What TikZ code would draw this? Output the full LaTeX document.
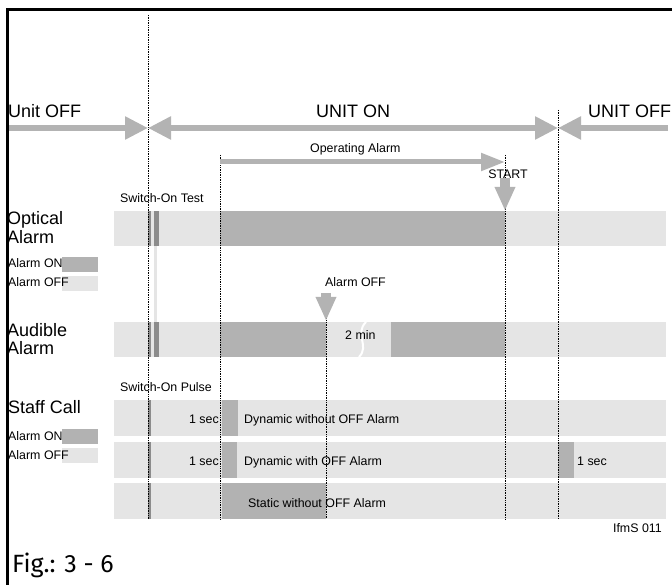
\documentclass[tikz,border=0pt]{standalone}
\usepackage{fontspec}
\setmainfont{Liberation Sans}
\newfontfamily\figfont{Fira Sans}
\usepackage{tikz}
\usetikzlibrary{arrows.meta, calc}
\definecolor{AlarmOn}{HTML}{B2B2B2}
\definecolor{AlarmOff}{HTML}{E5E5E5}
\definecolor{MarkGray}{HTML}{8C8C8C}
\definecolor{ArrowGray}{HTML}{B3B3B3}

\tikzset{
  bigtext/.style={anchor=base west, inner sep=0pt, font=\fontsize{18}{20}\selectfont},
  smalltext/.style={anchor=base west, inner sep=0pt, font=\fontsize{12.4}{14}\selectfont},
  bigarrow/.style={draw=ArrowGray, line width=5.5pt, -{Triangle[length=23pt, width=22pt]}},
  oparrow/.style={draw=ArrowGray, line width=5pt, -{Triangle[length=24pt, width=17pt]}},
  downarrow/.style={draw=ArrowGray, line width=10pt, -{Triangle[length=24pt, width=19pt]}},
  timeline/.style={densely dotted, line width=0.7pt},
}

\begin{document}
\begin{tikzpicture}[x=1pt, y=-1pt]
  \useasboundingbox (0,0) rectangle (672,585);

  %% bars: OFF background (optical, audible, three staff call rows)
  \foreach \y/\h in {211/35, 322/35, 400/36, 442/36, 483/36}{
    \fill[AlarmOff] (114,\y) rectangle (666,{\y+\h});
  }
  \fill[AlarmOff] (154,246) rectangle (157,322);

  %% ON parts
  \fill[AlarmOn] (220,211) rectangle (505,246);
  \fill[AlarmOn] (220,322) rectangle (326,357);
  \fill[AlarmOn] (391,322) rectangle (505,357);
  \fill[AlarmOn] (222,400) rectangle (238,436);
  \fill[AlarmOn] (222,442) rectangle (237,478);
  \fill[AlarmOn] (558,442) rectangle (574,478);
  \fill[AlarmOn] (222,483) rectangle (326,519);

  %% switch-on marks
  \foreach \y/\h in {211/35, 322/35}{
    \fill[MarkGray] (148,\y) rectangle (151,{\y+\h});
    \fill[MarkGray] (154,\y) rectangle (159,{\y+\h});
  }
  \foreach \y/\h in {400/36, 442/36, 483/36}{
    \fill[MarkGray] (148,\y) rectangle (151,{\y+\h});
  }

  %% break in the 2 min phase
  \draw[white, line width=2pt] (366,322) .. controls (354,334) and (370,346) .. (359,357);

  %% time lines
  \foreach \n/\t/\top in {on/148/15, op/220/155, aoff/326/310, start/505/155, off/558/110}{
    \coordinate (t\n) at (\t,\top);
    \coordinate (b\n) at (\t,519);
    \draw[timeline] (t\n) -- (b\n);
  }

  %% unit state arrows
  \coordinate (unitL) at (8,128);
  \coordinate (unitOn) at (148,128);
  \coordinate (unitOff) at (558,128);
  \coordinate (unitR) at (668,128);
  \draw[bigarrow] (unitL) -- (unitOn);
  \draw[bigarrow, {Triangle[length=23pt, width=22pt]}-{Triangle[length=23pt, width=22pt]}] (unitOn) -- (unitOff);
  \draw[bigarrow] (unitR) -- (unitOff);

  %% operating alarm
  \coordinate (opL) at (220,162);
  \coordinate (opR) at (505,162);
  \draw[oparrow] (opL) -- (opR);
  \coordinate (startTop) at (505,178);
  \coordinate (startTip) at (505,211);
  \draw[downarrow] (startTop) -- (startTip);
  \coordinate (aoffTop) at (326,293);
  \coordinate (aoffTip) at (326,321);
  \draw[downarrow] (aoffTop) -- (aoffTip);

  %% labels
  \node[bigtext] (unitoffl) at (8,118) {Unit OFF};
  \node[bigtext] (uniton) at (316,118) {UNIT ON};
  \node[bigtext] (unitoffr) at (588,118) {UNIT OFF};
  \node[smalltext] (oplbl) at (310,153) {Operating Alarm};
  \node[smalltext, anchor=base] (startlbl) at (508,179) {START};
  \node[smalltext] (testlbl) at (120,203) {Switch-On Test};
  \node[bigtext] (optical) at (7,225) {Optical};
  \node[bigtext] (opticalb) at (7,244) {Alarm};
  \node[smalltext] (aofflbl) at (325,287) {Alarm OFF};
  \node[bigtext] (audible) at (7,336) {Audible};
  \node[bigtext] (audibleb) at (7,354) {Alarm};
  \node[smalltext] (twomin) at (345,339) {2 min};
  \node[smalltext] (pulselbl) at (120,391) {Switch-On Pulse};
  \node[bigtext] (staff) at (8,413) {Staff Call};

  %% legends
  \foreach \i/\y in {1/0, 2/172}{
    \fill[AlarmOn] (62,{257+\y}) rectangle (98,{272+\y});
    \fill[AlarmOff] (62,{276+\y}) rectangle (98,{291+\y});
    \node[smalltext] (legon\i) at (8,{268+\y}) {Alarm ON};
    \node[smalltext] (legoff\i) at (8,{287+\y}) {Alarm OFF};
  }

  %% staff call rows
  \node[smalltext, anchor=base east] (sec1) at (219,423) {1 sec};
  \node[smalltext] (dynwo) at (244,423) {Dynamic without OFF Alarm};
  \node[smalltext, anchor=base east] (sec2) at (219,465) {1 sec};
  \node[smalltext] (dynw) at (244,465) {Dynamic with OFF Alarm};
  \node[smalltext] (sec3) at (577,465) {1 sec};
  \node[smalltext] (statwo) at (248,507) {Static without OFF Alarm};

  \node[smalltext, anchor=base east] (ifms) at (662,532) {IfmS 011};
  \node[anchor=base west, inner sep=0pt, font=\figfont\fontsize{25}{27}\selectfont] (fig) at (12,572) {Fig.: 3 - 6};

  %% frame
  \draw[line width=3pt] (7.5,585) -- (7.5,9.5) -- (672,9.5);
\end{tikzpicture}
\end{document}
